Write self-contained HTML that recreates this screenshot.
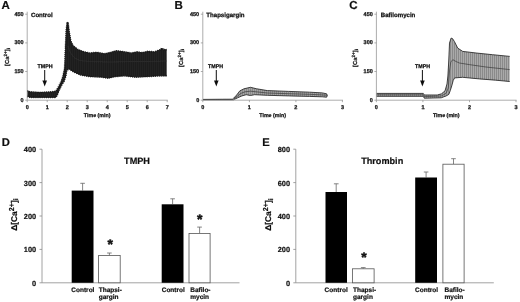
<!DOCTYPE html>
<html><head><meta charset="utf-8"><title>Figure</title>
<style>
html,body{margin:0;padding:0;background:#fff;}
body{width:520px;height:302px;overflow:hidden;font-family:"Liberation Sans",sans-serif;}
svg{display:block;will-change:transform;font-family:"Liberation Sans",sans-serif;}
</style></head><body>
<svg width="520" height="302" viewBox="0 0 520 302" text-rendering="geometricPrecision">
<rect width="520" height="302" fill="#fff"/>
<g filter="url(#blur)">
<defs>
<filter id="blur" x="0" y="0" width="520" height="302" filterUnits="userSpaceOnUse"><feGaussianBlur stdDeviation="0.4"/></filter>
<pattern id="pA" width="2" height="4" patternUnits="userSpaceOnUse"><rect width="2" height="4" fill="#1c1c1c"/><rect x="0" width="0.9" height="4" fill="#252525"/></pattern>
<pattern id="pB" width="2" height="4" patternUnits="userSpaceOnUse"><rect width="2" height="4" fill="#a6a6a6"/><rect x="0" width="1" height="4" fill="#8a8a8a"/></pattern>
<pattern id="pC" width="2" height="4" patternUnits="userSpaceOnUse"><rect width="2" height="4" fill="#aaaaaa"/><rect x="0" width="1" height="4" fill="#8a8a8a"/></pattern>
</defs>
<text x="1.5" y="9.2" font-size="11.5" font-weight="bold" text-anchor="start" fill="#111" stroke="#111" stroke-width="0.2" >A</text>
<polygon points="27.3,90.9 30.3,92.0 39.8,92.6 51.9,92.0 55.9,91.4 58.7,86.9 61.3,81.7 63.2,76.0 64.8,68.0 65.5,49.7 66.4,30.0 67.3,22.3 67.9,22.5 68.4,27.0 69.1,32.0 70.6,41.0 72.8,45.6 78.0,49.8 84.0,52.0 89.7,53.2 96.7,52.5 104.8,53.9 110.6,52.5 116.4,50.9 124.5,52.0 131.4,53.2 137.2,52.0 141.9,52.8 147.7,51.6 154.6,52.0 160.4,49.7 162.0,48.2 163.5,49.7 166.7,49.7 166.7,75.7 159.2,75.7 147.7,76.4 136.0,77.0 124.5,75.7 115.2,76.4 108.3,78.0 101.3,77.0 89.7,76.4 80.5,74.8 73.5,71.7 68.9,68.7 66.5,70.6 65.7,76.0 64.0,81.0 61.8,84.5 59.2,89.7 56.9,95.5 55.8,97.3 30.3,97.3 27.3,96.2" fill="url(#pA)"/>
<polyline points="27.3,90.9 30.3,92.0 39.8,92.6 51.9,92.0 55.9,91.4 58.7,86.9 61.3,81.7 63.2,76.0 64.8,68.0 65.5,49.7 66.4,30.0 67.3,22.3 67.9,22.5 68.4,27.0 69.1,32.0 70.6,41.0 72.8,45.6 78.0,49.8 84.0,52.0 89.7,53.2 96.7,52.5 104.8,53.9 110.6,52.5 116.4,50.9 124.5,52.0 131.4,53.2 137.2,52.0 141.9,52.8 147.7,51.6 154.6,52.0 160.4,49.7 162.0,48.2 163.5,49.7 166.7,49.7" fill="none" stroke="#1a1a1a" stroke-width="1.0" stroke-linejoin="round"/>
<polyline points="27.3,96.2 30.3,97.3 55.8,97.3 56.9,95.5 59.2,89.7 61.8,84.5 64.0,81.0 65.7,76.0 66.5,70.6 68.9,68.7 73.5,71.7 80.5,74.8 89.7,76.4 101.3,77.0 108.3,78.0 115.2,76.4 124.5,75.7 136.0,77.0 147.7,76.4 159.2,75.7 166.7,75.7" fill="none" stroke="#1a1a1a" stroke-width="1.0" stroke-linejoin="round"/>
<polyline points="68.0,46.0 70.0,52.0 74.0,57.5 80.0,60.5 90.0,61.5 110.0,62.0 130.0,61.5 150.0,61.5 166.7,61.0" fill="none" stroke="#333" stroke-width="0.6"/>
<polyline points="27.3,90.9 30.3,92.0 39.8,92.6 51.9,92.0 55.9,91.4 58.7,86.9 61.3,81.7 63.2,76.0 64.8,68.0 65.5,49.7 66.4,30.0 67.3,22.3 67.9,22.5 68.4,27.0 69.1,32.0 70.6,41.0 72.8,45.6 78.0,49.8 84.0,52.0 89.7,53.2 96.7,52.5 104.8,53.9 110.6,52.5 116.4,50.9 124.5,52.0 131.4,53.2 137.2,52.0 141.9,52.8 147.7,51.6 154.6,52.0 160.4,49.7 162.0,48.2 163.5,49.7 166.7,49.7" fill="none" stroke="#1a1a1a" stroke-width="2.0" stroke-dasharray="0.8 1.3"/>
<polyline points="27.3,96.2 30.3,97.3 55.8,97.3 56.9,95.5 59.2,89.7 61.8,84.5 64.0,81.0 65.7,76.0 66.5,70.6 68.9,68.7 73.5,71.7 80.5,74.8 89.7,76.4 101.3,77.0 108.3,78.0 115.2,76.4 124.5,75.7 136.0,77.0 147.7,76.4 159.2,75.7 166.7,75.7" fill="none" stroke="#1a1a1a" stroke-width="2.0" stroke-dasharray="0.8 1.3"/>
<path d="M27.2 11.7 V100.2 H167.7" fill="none" stroke="#8a8a8a" stroke-width="0.7"/>
<path d="M25.2 100.2 H27.2" stroke="#8a8a8a" stroke-width="0.7"/>
<text x="23.599999999999998" y="101.8" font-size="5.5" font-weight="bold" text-anchor="end" fill="#111" stroke="#111" stroke-width="0.25" >0</text>
<path d="M25.2 71.5 H27.2" stroke="#8a8a8a" stroke-width="0.7"/>
<text x="23.599999999999998" y="73.13333333333333" font-size="5.5" font-weight="bold" text-anchor="end" fill="#111" stroke="#111" stroke-width="0.25" >150</text>
<path d="M25.2 42.9 H27.2" stroke="#8a8a8a" stroke-width="0.7"/>
<text x="23.599999999999998" y="44.46666666666667" font-size="5.5" font-weight="bold" text-anchor="end" fill="#111" stroke="#111" stroke-width="0.25" >300</text>
<path d="M25.2 14.2 H27.2" stroke="#8a8a8a" stroke-width="0.7"/>
<text x="23.599999999999998" y="15.800000000000002" font-size="5.5" font-weight="bold" text-anchor="end" fill="#111" stroke="#111" stroke-width="0.25" >450</text>
<path d="M27.2 100.2 V102.2" stroke="#8a8a8a" stroke-width="0.7"/>
<text x="27.2" y="108.5" font-size="5.5" font-weight="bold" text-anchor="middle" fill="#111" stroke="#111" stroke-width="0.25" >0</text>
<path d="M47.2 100.2 V102.2" stroke="#8a8a8a" stroke-width="0.7"/>
<text x="47.2" y="108.5" font-size="5.5" font-weight="bold" text-anchor="middle" fill="#111" stroke="#111" stroke-width="0.25" >1</text>
<path d="M67.2 100.2 V102.2" stroke="#8a8a8a" stroke-width="0.7"/>
<text x="67.2" y="108.5" font-size="5.5" font-weight="bold" text-anchor="middle" fill="#111" stroke="#111" stroke-width="0.25" >2</text>
<path d="M87.2 100.2 V102.2" stroke="#8a8a8a" stroke-width="0.7"/>
<text x="87.2" y="108.5" font-size="5.5" font-weight="bold" text-anchor="middle" fill="#111" stroke="#111" stroke-width="0.25" >3</text>
<path d="M107.2 100.2 V102.2" stroke="#8a8a8a" stroke-width="0.7"/>
<text x="107.2" y="108.5" font-size="5.5" font-weight="bold" text-anchor="middle" fill="#111" stroke="#111" stroke-width="0.25" >4</text>
<path d="M127.2 100.2 V102.2" stroke="#8a8a8a" stroke-width="0.7"/>
<text x="127.2" y="108.5" font-size="5.5" font-weight="bold" text-anchor="middle" fill="#111" stroke="#111" stroke-width="0.25" >5</text>
<path d="M147.2 100.2 V102.2" stroke="#8a8a8a" stroke-width="0.7"/>
<text x="147.2" y="108.5" font-size="5.5" font-weight="bold" text-anchor="middle" fill="#111" stroke="#111" stroke-width="0.25" >6</text>
<path d="M167.2 100.2 V102.2" stroke="#8a8a8a" stroke-width="0.7"/>
<text x="167.2" y="108.5" font-size="5.5" font-weight="bold" text-anchor="middle" fill="#111" stroke="#111" stroke-width="0.25" >7</text>
<text x="97.19999999999999" y="117.2" font-size="5.3" font-weight="bold" text-anchor="middle" fill="#111" stroke="#111" stroke-width="0.25" >Time (min)</text>
<g transform="translate(9.2,57) rotate(-90)"><text x="0" y="0" font-size="5.8" font-weight="bold" text-anchor="middle" fill="#111" stroke="#111" stroke-width="0.2">[Ca<tspan dy="-2.2" font-size="4.6">2+</tspan><tspan dy="2.2">]</tspan><tspan dy="1" font-size="4.4">i</tspan></text></g>
<text x="31" y="16.7" font-size="6.1" font-weight="bold" text-anchor="start" fill="#111" stroke="#111" stroke-width="0.25" >Control</text>
<text x="45.1" y="68.2" font-size="5.3" font-weight="bold" text-anchor="middle" fill="#111" stroke="#111" stroke-width="0.25" >TMPH</text>
<path d="M44.7 70 V82" stroke="#111" stroke-width="1"/>
<path d="M42.400000000000006 80.6 L47.0 80.6 L44.7 86.4 Z" fill="#111"/>
<text x="174.5" y="9.2" font-size="11.5" font-weight="bold" text-anchor="start" fill="#111" stroke="#111" stroke-width="0.2" >B</text>
<polygon points="203.0,99.4 232.5,99.2 233.5,98.3 236.6,95.1 239.8,90.9 244.0,88.8 250.4,87.3 256.7,88.8 267.3,90.6 288.5,91.4 309.6,92.2 322.3,92.9 326.6,93.8 327.4,95.5 327.4,95.5 326.6,97.2 322.3,96.8 309.6,96.4 288.5,95.9 267.3,95.3 254.6,94.7 250.4,95.5 246.2,94.7 241.9,95.9 237.7,97.8 234.5,99.3 233.5,99.8 203.0,99.8" fill="url(#pB)"/>
<polyline points="203.0,99.4 232.5,99.2 233.5,98.3 236.6,95.1 239.8,90.9 244.0,88.8 250.4,87.3 256.7,88.8 267.3,90.6 288.5,91.4 309.6,92.2 322.3,92.9 326.6,93.8 327.4,95.5" fill="none" stroke="#2e2e2e" stroke-width="0.9" stroke-linejoin="round"/>
<polyline points="203.0,99.8 233.5,99.8 234.5,99.3 237.7,97.8 241.9,95.9 246.2,94.7 250.4,95.5 254.6,94.7 267.3,95.3 288.5,95.9 309.6,96.4 322.3,96.8 326.6,97.2 327.4,95.5" fill="none" stroke="#2e2e2e" stroke-width="0.9" stroke-linejoin="round"/>
<polyline points="234.0,98.8 237.2,96.4 240.9,93.4 245.0,91.8 250.4,91.2 256.0,91.8 267.3,93.0 288.5,93.7 309.6,94.3 327.0,95.2" fill="none" stroke="#3a3a3a" stroke-width="0.7"/>
<path d="M202.8 11.7 V100.2 H342.95" fill="none" stroke="#8a8a8a" stroke-width="0.7"/>
<path d="M200.8 100.2 H202.8" stroke="#8a8a8a" stroke-width="0.7"/>
<text x="199.20000000000002" y="101.8" font-size="5.5" font-weight="bold" text-anchor="end" fill="#111" stroke="#111" stroke-width="0.25" >0</text>
<path d="M200.8 71.5 H202.8" stroke="#8a8a8a" stroke-width="0.7"/>
<text x="199.20000000000002" y="73.13333333333333" font-size="5.5" font-weight="bold" text-anchor="end" fill="#111" stroke="#111" stroke-width="0.25" >150</text>
<path d="M200.8 42.9 H202.8" stroke="#8a8a8a" stroke-width="0.7"/>
<text x="199.20000000000002" y="44.46666666666667" font-size="5.5" font-weight="bold" text-anchor="end" fill="#111" stroke="#111" stroke-width="0.25" >300</text>
<path d="M200.8 14.2 H202.8" stroke="#8a8a8a" stroke-width="0.7"/>
<text x="199.20000000000002" y="15.800000000000002" font-size="5.5" font-weight="bold" text-anchor="end" fill="#111" stroke="#111" stroke-width="0.25" >450</text>
<path d="M202.8 100.2 V102.2" stroke="#8a8a8a" stroke-width="0.7"/>
<text x="202.8" y="108.5" font-size="5.5" font-weight="bold" text-anchor="middle" fill="#111" stroke="#111" stroke-width="0.25" >0</text>
<path d="M249.4 100.2 V102.2" stroke="#8a8a8a" stroke-width="0.7"/>
<text x="249.35000000000002" y="108.5" font-size="5.5" font-weight="bold" text-anchor="middle" fill="#111" stroke="#111" stroke-width="0.25" >1</text>
<path d="M295.9 100.2 V102.2" stroke="#8a8a8a" stroke-width="0.7"/>
<text x="295.9" y="108.5" font-size="5.5" font-weight="bold" text-anchor="middle" fill="#111" stroke="#111" stroke-width="0.25" >2</text>
<path d="M342.4 100.2 V102.2" stroke="#8a8a8a" stroke-width="0.7"/>
<text x="342.45" y="108.5" font-size="5.5" font-weight="bold" text-anchor="middle" fill="#111" stroke="#111" stroke-width="0.25" >3</text>
<text x="272.625" y="117.2" font-size="5.3" font-weight="bold" text-anchor="middle" fill="#111" stroke="#111" stroke-width="0.25" >Time (min)</text>
<g transform="translate(183.2,58) rotate(-90)"><text x="0" y="0" font-size="5.8" font-weight="bold" text-anchor="middle" fill="#111" stroke="#111" stroke-width="0.2">[Ca<tspan dy="-2.2" font-size="4.6">2+</tspan><tspan dy="2.2">]</tspan><tspan dy="1" font-size="4.4">i</tspan></text></g>
<text x="206.3" y="16.7" font-size="6.1" font-weight="bold" text-anchor="start" fill="#111" stroke="#111" stroke-width="0.25" >Thapsigargin</text>
<text x="215.5" y="68.2" font-size="5.3" font-weight="bold" text-anchor="middle" fill="#111" stroke="#111" stroke-width="0.25" >TMPH</text>
<path d="M216.3 70 V82" stroke="#111" stroke-width="1"/>
<path d="M214.0 80.6 L218.60000000000002 80.6 L216.3 86.4 Z" fill="#111"/>
<text x="349.2" y="9.2" font-size="11.5" font-weight="bold" text-anchor="start" fill="#111" stroke="#111" stroke-width="0.2" >C</text>
<polygon points="376.5,93.4 423.3,93.4 424.3,95.0 437.3,95.0 441.5,93.8 445.0,90.9 447.0,84.0 447.9,76.0 448.8,60.0 449.5,43.1 451.1,38.1 452.5,38.6 454.4,41.5 457.7,48.1 462.7,51.4 476.0,53.0 492.5,54.7 509.7,56.4 509.7,81.5 495.8,80.2 479.3,78.9 462.7,77.3 454.6,77.9 453.2,80.5 451.7,86.0 450.3,90.5 448.8,94.4 446.2,95.9 441.2,97.8 424.3,98.2 423.3,96.3 376.5,96.3" fill="url(#pC)"/>
<polyline points="376.5,93.4 423.3,93.4 424.3,95.0 437.3,95.0 441.5,93.8 445.0,90.9 447.0,84.0 447.9,76.0 448.8,60.0 449.5,43.1 451.1,38.1 452.5,38.6 454.4,41.5 457.7,48.1 462.7,51.4 476.0,53.0 492.5,54.7 509.7,56.4" fill="none" stroke="#2e2e2e" stroke-width="0.9" stroke-linejoin="round"/>
<polyline points="376.5,96.3 423.3,96.3 424.3,98.2 441.2,97.8 446.2,95.9 448.8,94.4 450.3,90.5 451.7,86.0 453.2,80.5 454.6,77.9 462.7,77.3 479.3,78.9 495.8,80.2 509.7,81.5" fill="none" stroke="#2e2e2e" stroke-width="0.9" stroke-linejoin="round"/>
<polyline points="376.5,94.8 423.3,94.8 424.3,96.6 441.2,96.0 446.0,93.4 448.3,88.0 449.6,70.0 450.8,62.0 452.8,59.7 456.0,61.5 459.4,63.0 469.3,64.6 485.9,67.0 509.7,69.6" fill="none" stroke="#3a3a3a" stroke-width="0.7"/>
<path d="M376.4 11.7 V100.2 H516.55" fill="none" stroke="#8a8a8a" stroke-width="0.7"/>
<path d="M374.4 100.2 H376.4" stroke="#8a8a8a" stroke-width="0.7"/>
<text x="372.79999999999995" y="101.8" font-size="5.5" font-weight="bold" text-anchor="end" fill="#111" stroke="#111" stroke-width="0.25" >0</text>
<path d="M374.4 71.5 H376.4" stroke="#8a8a8a" stroke-width="0.7"/>
<text x="372.79999999999995" y="73.13333333333333" font-size="5.5" font-weight="bold" text-anchor="end" fill="#111" stroke="#111" stroke-width="0.25" >150</text>
<path d="M374.4 42.9 H376.4" stroke="#8a8a8a" stroke-width="0.7"/>
<text x="372.79999999999995" y="44.46666666666667" font-size="5.5" font-weight="bold" text-anchor="end" fill="#111" stroke="#111" stroke-width="0.25" >300</text>
<path d="M374.4 14.2 H376.4" stroke="#8a8a8a" stroke-width="0.7"/>
<text x="372.79999999999995" y="15.800000000000002" font-size="5.5" font-weight="bold" text-anchor="end" fill="#111" stroke="#111" stroke-width="0.25" >450</text>
<path d="M376.4 100.2 V102.2" stroke="#8a8a8a" stroke-width="0.7"/>
<text x="376.4" y="108.5" font-size="5.5" font-weight="bold" text-anchor="middle" fill="#111" stroke="#111" stroke-width="0.25" >0</text>
<path d="M422.9 100.2 V102.2" stroke="#8a8a8a" stroke-width="0.7"/>
<text x="422.95" y="108.5" font-size="5.5" font-weight="bold" text-anchor="middle" fill="#111" stroke="#111" stroke-width="0.25" >1</text>
<path d="M469.5 100.2 V102.2" stroke="#8a8a8a" stroke-width="0.7"/>
<text x="469.5" y="108.5" font-size="5.5" font-weight="bold" text-anchor="middle" fill="#111" stroke="#111" stroke-width="0.25" >2</text>
<path d="M516.0 100.2 V102.2" stroke="#8a8a8a" stroke-width="0.7"/>
<text x="516.05" y="108.5" font-size="5.5" font-weight="bold" text-anchor="middle" fill="#111" stroke="#111" stroke-width="0.25" >3</text>
<text x="446.22499999999997" y="117.2" font-size="5.3" font-weight="bold" text-anchor="middle" fill="#111" stroke="#111" stroke-width="0.25" >Time (min)</text>
<g transform="translate(357.0,58) rotate(-90)"><text x="0" y="0" font-size="5.8" font-weight="bold" text-anchor="middle" fill="#111" stroke="#111" stroke-width="0.2">[Ca<tspan dy="-2.2" font-size="4.6">2+</tspan><tspan dy="2.2">]</tspan><tspan dy="1" font-size="4.4">i</tspan></text></g>
<text x="380.8" y="16.7" font-size="6.1" font-weight="bold" text-anchor="start" fill="#111" stroke="#111" stroke-width="0.25" >Bafilomycin</text>
<text x="422.59999999999997" y="68.2" font-size="5.3" font-weight="bold" text-anchor="middle" fill="#111" stroke="#111" stroke-width="0.25" >TMPH</text>
<path d="M422.4 70 V82" stroke="#111" stroke-width="1"/>
<path d="M420.09999999999997 80.6 L424.7 80.6 L422.4 86.4 Z" fill="#111"/>
<text x="1.8" y="145.7" font-size="11.2" font-weight="bold" text-anchor="start" fill="#111" stroke="#111" stroke-width="0.2" >D</text>
<path d="M42 149.2 V282.8 H239.5" fill="none" stroke="#8a8a8a" stroke-width="0.8"/>
<path d="M39.5 282.8 H42" stroke="#8a8a8a" stroke-width="0.8"/>
<text x="36.2" y="285.7" font-size="7.4" font-weight="bold" text-anchor="end" fill="#111" stroke="#111" stroke-width="0.2" >0</text>
<path d="M39.5 249.4 H42" stroke="#8a8a8a" stroke-width="0.8"/>
<text x="36.2" y="252.3" font-size="7.4" font-weight="bold" text-anchor="end" fill="#111" stroke="#111" stroke-width="0.2" >100</text>
<path d="M39.5 216.0 H42" stroke="#8a8a8a" stroke-width="0.8"/>
<text x="36.2" y="218.9" font-size="7.4" font-weight="bold" text-anchor="end" fill="#111" stroke="#111" stroke-width="0.2" >200</text>
<path d="M39.5 182.6 H42" stroke="#8a8a8a" stroke-width="0.8"/>
<text x="36.2" y="185.5" font-size="7.4" font-weight="bold" text-anchor="end" fill="#111" stroke="#111" stroke-width="0.2" >300</text>
<path d="M39.5 149.2 H42" stroke="#8a8a8a" stroke-width="0.8"/>
<text x="36.2" y="152.1" font-size="7.4" font-weight="bold" text-anchor="end" fill="#111" stroke="#111" stroke-width="0.2" >400</text>
<path d="M82.6 190.6 V183.3 M80.3 183.3 H84.9" stroke="#666" stroke-width="0.8" fill="none"/>
<rect x="71.7" y="190.6" width="21.799999999999997" height="92.2" fill="#050505"/>
<path d="M109.4 255.5 V253.0 M107.1 253.0 H111.7" stroke="#666" stroke-width="0.8" fill="none"/>
<rect x="98.60000000000001" y="255.5" width="21.59999999999999" height="27.3" fill="#fff" stroke="#555" stroke-width="0.8"/>
<path d="M172.6 204.3 V198.8 M170.3 198.8 H174.9" stroke="#666" stroke-width="0.8" fill="none"/>
<rect x="161.7" y="204.3" width="21.80000000000001" height="78.5" fill="#050505"/>
<path d="M199.6 233.4 V227.1 M197.2 227.1 H201.9" stroke="#666" stroke-width="0.8" fill="none"/>
<rect x="189.0" y="233.4" width="21.100000000000005" height="49.4" fill="#fff" stroke="#555" stroke-width="0.8"/>
<text x="71.3" y="291.6" font-size="6.5" font-weight="bold" text-anchor="start" fill="#111" stroke="#111" stroke-width="0.2" >Control</text>
<text x="98.7" y="291.6" font-size="6.5" font-weight="bold" text-anchor="start" fill="#111" stroke="#111" stroke-width="0.2" >Thapsi-</text>
<text x="98.7" y="298.6" font-size="6.5" font-weight="bold" text-anchor="start" fill="#111" stroke="#111" stroke-width="0.2" >gargin</text>
<text x="161.7" y="291.6" font-size="6.5" font-weight="bold" text-anchor="start" fill="#111" stroke="#111" stroke-width="0.2" >Control</text>
<text x="190.3" y="291.6" font-size="6.5" font-weight="bold" text-anchor="start" fill="#111" stroke="#111" stroke-width="0.2" >Bafilo-</text>
<text x="190.3" y="298.6" font-size="6.5" font-weight="bold" text-anchor="start" fill="#111" stroke="#111" stroke-width="0.2" >mycin</text>
<text x="110.2" y="249.10000000000002" font-size="14" font-weight="bold" text-anchor="middle" fill="#111" stroke="#111" stroke-width="0.45" >*</text>
<text x="199.7" y="223.60000000000002" font-size="14" font-weight="bold" text-anchor="middle" fill="#111" stroke="#111" stroke-width="0.45" >*</text>
<text x="137" y="164.3" font-size="9.15" font-weight="bold" text-anchor="middle" fill="#111" stroke="#111" stroke-width="0.2" >TMPH</text>
<g transform="translate(16.6,214.6) rotate(-90)"><text x="0" y="0" font-size="8.4" font-weight="bold" text-anchor="middle" fill="#111" stroke="#111" stroke-width="0.2">Δ[Ca<tspan dy="-3.1" font-size="7.2">2+</tspan><tspan dy="3.1">]</tspan><tspan dy="1.4" font-size="6.6">i</tspan></text></g>
<text x="262.3" y="145.7" font-size="11.2" font-weight="bold" text-anchor="start" fill="#111" stroke="#111" stroke-width="0.2" >E</text>
<path d="M295.8 149.2 V282.8 H493.8" fill="none" stroke="#8a8a8a" stroke-width="0.8"/>
<path d="M293.3 282.8 H295.8" stroke="#8a8a8a" stroke-width="0.8"/>
<text x="290.0" y="285.7" font-size="7.4" font-weight="bold" text-anchor="end" fill="#111" stroke="#111" stroke-width="0.2" >0</text>
<path d="M293.3 249.4 H295.8" stroke="#8a8a8a" stroke-width="0.8"/>
<text x="290.0" y="252.3" font-size="7.4" font-weight="bold" text-anchor="end" fill="#111" stroke="#111" stroke-width="0.2" >200</text>
<path d="M293.3 216.0 H295.8" stroke="#8a8a8a" stroke-width="0.8"/>
<text x="290.0" y="218.9" font-size="7.4" font-weight="bold" text-anchor="end" fill="#111" stroke="#111" stroke-width="0.2" >400</text>
<path d="M293.3 182.6 H295.8" stroke="#8a8a8a" stroke-width="0.8"/>
<text x="290.0" y="185.5" font-size="7.4" font-weight="bold" text-anchor="end" fill="#111" stroke="#111" stroke-width="0.2" >600</text>
<path d="M293.3 149.2 H295.8" stroke="#8a8a8a" stroke-width="0.8"/>
<text x="290.0" y="152.1" font-size="7.4" font-weight="bold" text-anchor="end" fill="#111" stroke="#111" stroke-width="0.2" >800</text>
<path d="M336.2 192.0 V183.8 M333.9 183.8 H338.6" stroke="#666" stroke-width="0.8" fill="none"/>
<rect x="325.5" y="192.0" width="21.5" height="90.8" fill="#050505"/>
<path d="M363.2 268.8 V267.6 M360.9 267.6 H365.6" stroke="#666" stroke-width="0.8" fill="none"/>
<rect x="352.4" y="268.8" width="21.7" height="14.0" fill="#fff" stroke="#555" stroke-width="0.8"/>
<path d="M426.1 177.5 V172.0 M423.8 172.0 H428.4" stroke="#666" stroke-width="0.8" fill="none"/>
<rect x="415.2" y="177.5" width="21.80000000000001" height="105.3" fill="#050505"/>
<path d="M453.5 164.2 V158.7 M451.2 158.7 H455.8" stroke="#666" stroke-width="0.8" fill="none"/>
<rect x="442.9" y="164.2" width="21.2" height="118.6" fill="#fff" stroke="#555" stroke-width="0.8"/>
<text x="324.6" y="291.6" font-size="6.5" font-weight="bold" text-anchor="start" fill="#111" stroke="#111" stroke-width="0.2" >Control</text>
<text x="353" y="291.6" font-size="6.5" font-weight="bold" text-anchor="start" fill="#111" stroke="#111" stroke-width="0.2" >Thapsi-</text>
<text x="353" y="298.6" font-size="6.5" font-weight="bold" text-anchor="start" fill="#111" stroke="#111" stroke-width="0.2" >gargin</text>
<text x="415" y="291.6" font-size="6.5" font-weight="bold" text-anchor="start" fill="#111" stroke="#111" stroke-width="0.2" >Control</text>
<text x="444.5" y="291.6" font-size="6.5" font-weight="bold" text-anchor="start" fill="#111" stroke="#111" stroke-width="0.2" >Bafilo-</text>
<text x="444.5" y="298.6" font-size="6.5" font-weight="bold" text-anchor="start" fill="#111" stroke="#111" stroke-width="0.2" >mycin</text>
<text x="364" y="262.40000000000003" font-size="14" font-weight="bold" text-anchor="middle" fill="#111" stroke="#111" stroke-width="0.45" >*</text>
<text x="382.2" y="164.3" font-size="9.15" font-weight="bold" text-anchor="middle" fill="#111" stroke="#111" stroke-width="0.2" >Thrombin</text>
<g transform="translate(271.4,214.6) rotate(-90)"><text x="0" y="0" font-size="8.4" font-weight="bold" text-anchor="middle" fill="#111" stroke="#111" stroke-width="0.2">Δ[Ca<tspan dy="-3.1" font-size="7.2">2+</tspan><tspan dy="3.1">]</tspan><tspan dy="1.4" font-size="6.6">i</tspan></text></g>
</g>
</svg>
</body></html>
